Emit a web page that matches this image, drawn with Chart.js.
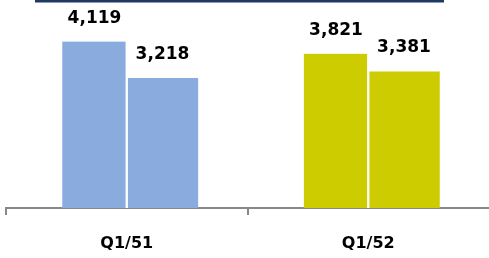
<!DOCTYPE html>
<html><head><meta charset="utf-8">
<style>html,body{margin:0;padding:0;background:#fff;overflow:hidden}canvas{display:block}</style>
</head><body>
<canvas id="c" width="489" height="258"></canvas>
<script src="https://cdn.jsdelivr.net/npm/chart.js@4/dist/chart.umd.min.js"></script>
<script>
const categories = ['Q1/51', 'Q1/52'];
const seriesA = [4119, 3821];
const seriesB = [3218, 3381];
const yMax = 5000;

const groupColors = ['#8aabde', '#cccc00'];
const fmt = v => v.toLocaleString('en-US');

const valueLabels = {
  id: 'valueLabels',
  afterDatasetsDraw(chart) {
    const ctx = chart.ctx;
    ctx.save();
    ctx.font = 'bold 17px "DejaVu Sans", sans-serif';
    ctx.fillStyle = '#000';
    ctx.textAlign = 'center';
    ctx.textBaseline = 'alphabetic';
    chart.data.datasets.forEach((ds, di) => {
      const meta = chart.getDatasetMeta(di);
      meta.data.forEach((el, i) => {
        ctx.fillText(fmt(ds.data[i]), el.x, el.y - 19);
      });
    });
    ctx.restore();
  }
};

const topRule = {
  id: 'topRule',
  beforeDraw(chart) {
    const ctx = chart.ctx;
    ctx.save();
    ctx.fillStyle = '#1f3864';
    ctx.fillRect(35, 0, 409, 2.5);
    ctx.restore();
  }
};

new Chart(document.getElementById('c'), {
  type: 'bar',
  data: {
    labels: categories,
    datasets: [
      {
        data: seriesA,
        backgroundColor: groupColors,
        borderColor: '#ffffff',
        borderWidth: {top: 0, left: 0, bottom: 0, right: 1.5},
        borderSkipped: 'start',
        barThickness: 64.5
      },
      {
        data: seriesB,
        backgroundColor: groupColors,
        borderColor: '#ffffff',
        borderWidth: {top: 0, left: 1.5, bottom: 0, right: 0},
        borderSkipped: 'start',
        barThickness: 71.5
      }
    ]
  },
  options: {
    responsive: false,
    animation: false,
    devicePixelRatio: 1,
    layout: {padding: {left: 6, right: 0, top: 6, bottom: 5}},
    plugins: {legend: {display: false}, tooltip: {enabled: false}},
    scales: {
      x: {
        type: 'category',
        offset: true,
        afterFit(scale) { scale.height = 45; },
        grid: {
          display: true, drawOnChartArea: false, drawTicks: true, tickLength: 7, lineWidth: 2,
          color: c => (c.type === 'tick' ? '#888888' : 'rgba(0,0,0,0)')
        },
        border: {display: true, color: '#888888', width: 2},
        ticks: {color: '#000', padding: 19, font: {family: '"DejaVu Sans", sans-serif', size: 16, weight: 'bold'}}
      },
      y: {
        display: false,
        min: 0,
        max: yMax
      }
    }
  },
  plugins: [topRule, valueLabels]
});
</script>
</body></html>
